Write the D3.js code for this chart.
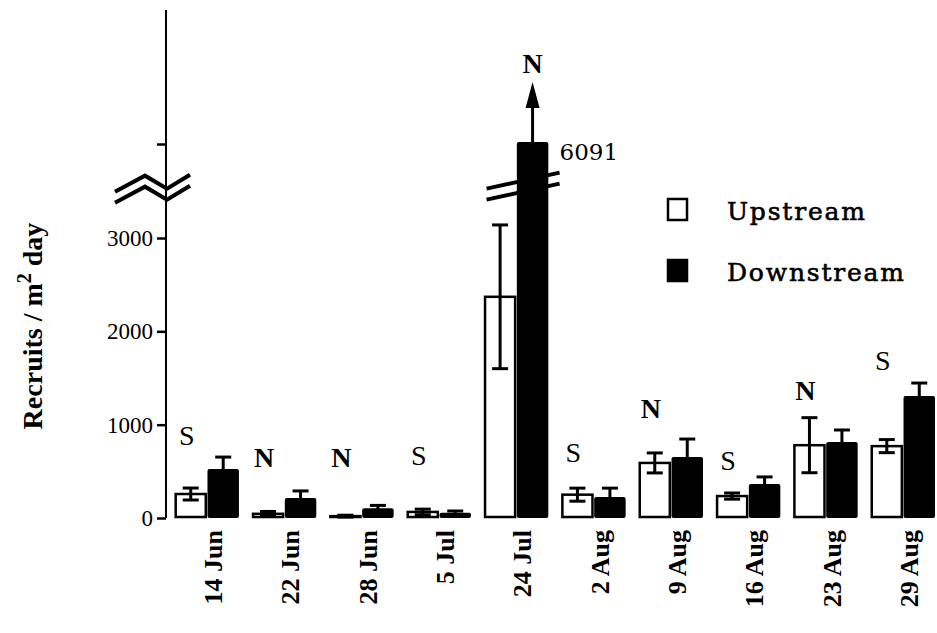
<!DOCTYPE html>
<html>
<head>
<meta charset="utf-8">
<script src="https://cdn.jsdelivr.net/npm/d3@7"></script>
<style>
body { margin: 0; background: white; }
.tick text { font-family: "Liberation Serif", serif; font-size: 23px; fill: black; }
</style>
</head>
<body>
<script>
// sampling dates and recruit rates (per m2 per day)
const dates = ["14 Jun", "22 Jun", "28 Jun", "5 Jul", "24 Jul", "2 Aug", "9 Aug", "16 Aug", "23 Aug", "29 Aug"];
const upstream = [257, 45, 20, 65, 2370, 250, 590, 235, 780, 770];
const upstreamErr = [64, 25, 10, 30, 770, 70, 107, 33, 295, 70];
const downstream = [525, 214, 105, 55, 6091, 225, 653, 364, 814, 1307];
const downstreamErr = [128, 76, 30, 20, 0, 95, 193, 76, 129, 139];
const sig = ["S", "N", "N", "S", "N", "S", "N", "S", "N", "S"];
const sigAt = [782, 546, 546, 568, 9200, 600, 1070, 514, 1264, 1586];
const lowTicks = [0, 1000, 2000, 3000];
const highTicks = [6000];

const W = 937, H = 633;
const svg = d3.select("body").append("svg").attr("width", W).attr("height", H);

const axisX = 166;
const yLow = d3.scaleLinear().domain([0, 3000]).range([518, 238]);
const yHigh = d3.scaleLinear().domain([6000, 12000]).range([144, 10]);
const y = v => v > 5000 ? yHigh(v) : yLow(v);

const x = d3.scaleBand().domain(dates).range([168.3, 941.7])
  .paddingInner(0.16).paddingOuter(0.08);
const x1 = d3.scaleBand().domain(["up", "down"]).range([0, x.bandwidth()]);

const rows = dates.map((d, i) => ({
  date: d, up: upstream[i], upErr: upstreamErr[i],
  down: downstream[i], downErr: downstreamErr[i], sig: sig[i], sigAt: sigAt[i]
}));

// axis
svg.append("line").attr("x1", axisX).attr("x2", axisX)
  .attr("y1", yHigh.range()[1]).attr("y2", yLow(0))
  .attr("stroke", "black").attr("stroke-width", 2);

const gl = svg.append("g").attr("transform", `translate(${axisX},0)`)
  .call(d3.axisLeft(yLow).tickValues(lowTicks).tickSize(9).tickPadding(4).tickFormat(d3.format("d")));
const gh = svg.append("g").attr("transform", `translate(${axisX},0)`)
  .call(d3.axisLeft(yHigh).tickValues(highTicks).tickSize(9).tickFormat(""));
[gl, gh].forEach(g => {
  g.select(".domain").remove();
  g.selectAll(".tick line").attr("stroke-width", 2.5);
});

// axis break
const by = yLow(3550);
const zig = d3.line();
[0, 11].forEach(off => {
  svg.append("path")
    .attr("d", zig([[axisX - 51, by + 5 + off], [axisX - 21, by - 11 + off], [axisX + 1, by + 2 + off], [axisX + 24, by - 12 + off]]))
    .attr("fill", "none").attr("stroke", "black").attr("stroke-width", 4);
});

// bars
const groups = svg.selectAll("g.grp").data(rows).join("g").attr("class", "grp")
  .attr("transform", d => `translate(${x(d.date)},0)`);
const bw = x1.bandwidth();

groups.append("rect")
  .attr("x", x1("up") + 1.2).attr("width", bw - 2.4)
  .attr("y", d => y(d.up)).attr("height", d => yLow(0) - y(d.up) - 1)
  .attr("fill", "white").attr("stroke", "black").attr("stroke-width", 2.5);
groups.append("rect")
  .attr("x", x1("down") + 0.5).attr("width", bw - 1)
  .attr("y", d => y(d.down)).attr("height", d => yLow(0) - y(d.down))
  .attr("fill", "black").attr("rx", 2);

function errBar(sel, key, errKey) {
  const cx = x1(key) + bw / 2;
  const e = sel.filter(d => d[errKey] > 0).append("g")
    .attr("stroke", "black").attr("stroke-width", 3);
  e.append("line").attr("x1", cx).attr("x2", cx)
    .attr("y1", d => y(d[key] - d[errKey])).attr("y2", d => y(d[key] + d[errKey]));
  e.append("line").attr("x1", cx - 8).attr("x2", cx + 8)
    .attr("y1", d => y(d[key] + d[errKey])).attr("y2", d => y(d[key] + d[errKey]));
  e.append("line").attr("x1", cx - 8).attr("x2", cx + 8)
    .attr("y1", d => y(d[key] - d[errKey])).attr("y2", d => y(d[key] - d[errKey]));
}
errBar(groups, "up", "upErr");
errBar(groups, "down", "downErr");

// significance letters (over the arrow for the off-scale bar)
groups.append("text")
  .attr("x", d => d.down > 5000 ? x1("down") + bw / 2 : bw / 2 - 4)
  .attr("y", d => y(d.sigAt))
  .attr("text-anchor", "middle")
  .style("font-family", "Liberation Serif, serif").style("font-size", "28px")
  .style("font-weight", d => d.sig === "N" ? "bold" : "normal")
  .text(d => d.sig);

// off-scale bar: break marks, arrow and value
const big = rows.find(d => d.down > 5000);
const bx = x(big.date) + x1("down") + bw / 2;
const bby = yLow(3700);
[0, 11].forEach(off => {
  svg.append("line")
    .attr("x1", bx - 46).attr("y1", bby + 16 + off)
    .attr("x2", bx + 27).attr("y2", bby + off)
    .attr("stroke", "black").attr("stroke-width", 4);
});
const bigTop = y(big.down);
svg.append("line").attr("x1", bx).attr("x2", bx).attr("y1", bigTop).attr("y2", bigTop - 36)
  .attr("stroke", "black").attr("stroke-width", 3);
svg.append("path")
  .attr("d", d3.line()([[bx - 7, bigTop - 34], [bx, bigTop - 60], [bx + 7, bigTop - 34]]) + "Z")
  .attr("fill", "black");
svg.append("text").attr("x", bx + 27).attr("y", bigTop + 18)
  .style("font-family", "DejaVu Serif, serif").style("font-size", "23px")
  .text(d3.format("d")(big.down));

// x labels
svg.selectAll("text.xl").data(dates).join("text").attr("class", "xl")
  .attr("transform", d => `translate(${x(d) + x.bandwidth() / 2 + 6},530) rotate(-90)`)
  .attr("dy", "0.35em").attr("text-anchor", "end")
  .style("font-family", "Liberation Serif, serif").style("font-size", "26px").style("font-weight", "bold")
  .text(d => d);

// y title
const yt = svg.append("text")
  .attr("transform", "translate(42,326) rotate(-90)")
  .attr("text-anchor", "middle")
  .style("font-family", "Liberation Serif, serif").style("font-size", "28px").style("font-weight", "bold");
yt.append("tspan").text("Recruits / m");
yt.append("tspan").attr("dy", -11).style("font-size", "20px").text("2");
yt.append("tspan").attr("dy", 11).text(" day");

// legend
const legend = [{name: "Upstream", fill: "white"}, {name: "Downstream", fill: "black"}];
const lg = svg.selectAll("g.lg").data(legend).join("g").attr("class", "lg")
  .attr("transform", (d, i) => `translate(667,${198 + i * 61})`);
lg.append("rect").attr("x", 1).attr("y", 1).attr("width", 19).attr("height", 21)
  .attr("fill", d => d.fill).attr("stroke", "black").attr("stroke-width", 2.5);
lg.append("text").attr("x", 60).attr("y", 22)
  .style("font-family", "DejaVu Serif, serif").style("font-size", "25px")
  .style("letter-spacing", "1.8px").attr("stroke", "black").attr("stroke-width", 0.6)
  .text(d => d.name);
</script>
</body>
</html>
